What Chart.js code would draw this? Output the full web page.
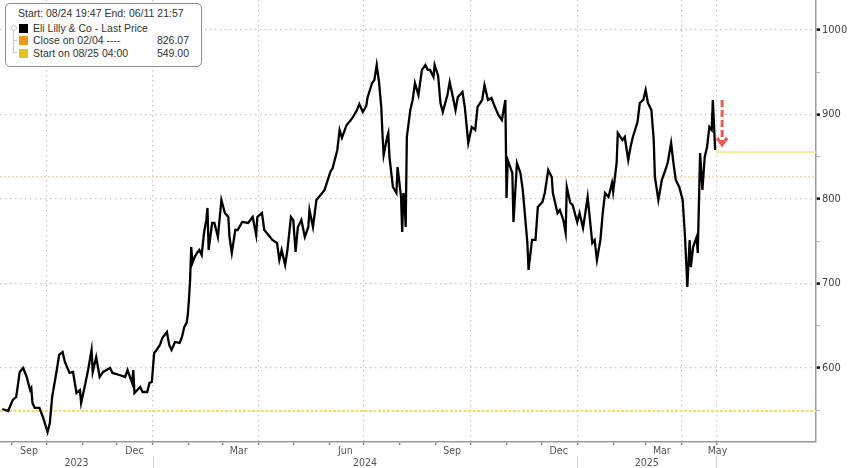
<!DOCTYPE html>
<html>
<head>
<meta charset="utf-8">
<script src="https://cdn.jsdelivr.net/npm/chart.js@4.4.1/dist/chart.umd.min.js"></script>
<style>
html,body{margin:0;padding:0;background:#fff;width:848px;height:468px;overflow:hidden}
#wrap{position:relative;width:848px;height:468px}
#c{position:absolute;left:0;top:0}
#legend{position:absolute;left:5px;top:3px;width:197px;height:64px;box-sizing:border-box;border:1.5px solid #8c8c8c;border-radius:5px;background:#fff;font-family:"Liberation Sans",Arial,sans-serif;font-size:10.5px;color:#333}
#legend .hdr{position:absolute;left:12px;top:3px;white-space:nowrap}
#legend .row{position:absolute;left:0;width:100%;height:12px;white-space:nowrap}
#legend .sw{position:absolute;left:13px;top:1px;width:9px;height:9px}
#legend .lbl{position:absolute;left:27px;top:-1px}
#legend .val{position:absolute;right:12px;top:-1px}
#legend .tree{position:absolute;background:#c9c9c9}
</style>
</head>
<body>
<div id="wrap">
<canvas id="c" width="848" height="468"></canvas>
<div id="legend"></div>
</div>
<script>
// ---------- DATA ----------
const priceDates = [
'2023-08-24','2023-08-29','2023-09-02','2023-09-05','2023-09-08','2023-09-11','2023-09-14','2023-09-17','2023-09-18','2023-09-19',
'2023-09-21','2023-09-25','2023-09-28','2023-10-02','2023-10-04','2023-10-06','2023-10-10','2023-10-12','2023-10-15','2023-10-17',
'2023-10-21','2023-10-24','2023-10-27','2023-10-30','2023-10-31','2023-11-03','2023-11-06','2023-11-09','2023-11-10','2023-11-13',
'2023-11-16','2023-11-19','2023-11-25','2023-11-27','2023-12-03','2023-12-08','2023-12-10','2023-12-14','2023-12-15','2023-12-16',
'2023-12-21','2023-12-23','2023-12-27','2023-12-29','2023-12-31','2024-01-02','2024-01-04','2024-01-07','2024-01-09','2024-01-13',
'2024-01-15','2024-01-17','2024-01-20','2024-01-24','2024-01-26','2024-01-28','2024-01-30','2024-01-31','2024-02-01','2024-02-02',
'2024-02-03','2024-02-04','2024-02-06','2024-02-08','2024-02-10','2024-02-12','2024-02-14','2024-02-16','2024-02-17','2024-02-18',
'2024-02-21','2024-02-23','2024-02-26','2024-02-29','2024-03-03','2024-03-06','2024-03-07','2024-03-09','2024-03-12','2024-03-14',
'2024-03-18','2024-03-23','2024-03-27','2024-03-30','2024-03-31','2024-04-04','2024-04-06','2024-04-11','2024-04-13','2024-04-17',
'2024-04-19','2024-04-21','2024-04-24','2024-04-26','2024-04-29','2024-05-01','2024-05-03','2024-05-05','2024-05-08','2024-05-11',
'2024-05-14','2024-05-15','2024-05-18','2024-05-21','2024-05-26','2024-05-28','2024-06-02','2024-06-04','2024-06-08','2024-06-10',
'2024-06-12','2024-06-16','2024-06-19','2024-06-21','2024-06-25','2024-06-27','2024-06-30','2024-07-03','2024-07-04','2024-07-08',
'2024-07-10','2024-07-12','2024-07-14','2024-07-16','2024-07-17','2024-07-18','2024-07-21','2024-07-22','2024-07-23','2024-07-25',
'2024-07-26','2024-07-29','2024-07-30','2024-08-02','2024-08-03','2024-08-04','2024-08-05','2024-08-06','2024-08-07','2024-08-10',
'2024-08-12','2024-08-14','2024-08-17','2024-08-20','2024-08-23','2024-08-25','2024-08-27','2024-08-30','2024-08-31','2024-09-03',
'2024-09-05','2024-09-07','2024-09-11','2024-09-13','2024-09-15','2024-09-18','2024-09-20','2024-09-24','2024-09-26','2024-09-29',
'2024-10-02','2024-10-05','2024-10-07','2024-10-11','2024-10-13','2024-10-16','2024-10-19','2024-10-22','2024-10-25','2024-10-28',
'2024-10-31','2024-11-01','2024-11-02','2024-11-06','2024-11-07','2024-11-10','2024-11-13','2024-11-15','2024-11-19','2024-11-20',
'2024-11-23','2024-11-26','2024-11-28','2024-12-02','2024-12-04','2024-12-07','2024-12-10','2024-12-11','2024-12-15','2024-12-17',
'2024-12-20','2024-12-22','2024-12-23','2024-12-26','2024-12-28','2025-01-01','2025-01-03','2025-01-06','2025-01-08','2025-01-10',
'2025-01-14','2025-01-16','2025-01-18','2025-01-21','2025-01-23','2025-01-25','2025-01-28','2025-01-31','2025-02-01','2025-02-04',
'2025-02-05','2025-02-09','2025-02-11','2025-02-14','2025-02-16','2025-02-18','2025-02-22','2025-02-24','2025-02-27','2025-03-01',
'2025-03-03','2025-03-06','2025-03-08','2025-03-09','2025-03-12','2025-03-15','2025-03-18','2025-03-20','2025-03-23','2025-03-25',
'2025-03-27','2025-03-30','2025-04-02','2025-04-04','2025-04-06','2025-04-08','2025-04-09','2025-04-11','2025-04-14','2025-04-15',
'2025-04-17','2025-04-19','2025-04-21','2025-04-23','2025-04-25','2025-04-27','2025-04-28','2025-04-30'
];
const priceValues = [
551.5,549.1,562.1,565.7,595.3,600.0,589.4,573.9,576.3,558.6,
552.7,552.7,542.0,524.3,534.9,565.7,597.6,615.4,618.9,607.1,
594.1,595.3,570.4,573.9,558.6,577.5,597.6,621.3,595.3,613.0,
589.4,595.3,600.0,594.1,591.7,589.4,597.6,582.3,597.6,570.4,
577.5,571.6,571.6,582.3,583.4,617.8,621.3,627.2,635.5,642.6,
627.2,621.3,630.8,629.6,636.7,648.5,653.3,662.7,680.5,704.2,
743.2,724.3,731.4,736.1,739.7,733.7,759.8,775.2,789.4,739.7,
771.6,771.6,755.0,798.8,783.4,778.7,755.0,736.1,763.3,763.3,
772.8,771.6,778.7,757.4,778.7,783.4,763.3,755.0,751.5,747.9,
727.8,739.7,721.9,739.7,778.7,775.2,737.3,766.9,775.2,755.0,
766.9,786.9,766.9,798.8,807.1,810.7,832.0,836.7,858.0,881.7,
872.3,887.6,892.3,895.9,905.3,912.4,903.0,910.1,919.5,937.3,
940.8,958.6,938.5,907.7,875.7,852.1,873.4,878.1,849.7,826.0,
814.2,807.1,837.9,802.4,760.9,807.1,798.8,766.9,873.4,905.3,
917.2,937.3,923.1,952.7,958.6,952.7,952.7,944.4,958.6,945.6,
913.6,903.0,923.1,938.5,925.4,905.3,920.7,926.6,908.9,866.3,
885.2,881.7,908.9,917.2,934.9,917.2,919.5,908.9,899.4,893.5,
917.2,801.2,846.2,830.8,772.8,842.6,830.8,810.7,747.9,716.0,
751.5,751.5,790.5,796.5,807.1,834.3,826.0,807.1,783.4,787.0,
775.2,759.8,814.2,795.3,792.9,772.8,783.4,765.7,783.4,802.4,
747.9,751.5,727.8,751.5,783.4,807.1,802.4,818.9,808.3,842.6,
878.1,869.8,873.4,846.2,861.5,873.4,891.1,913.6,917.2,929.0,
913.6,905.3,869.8,826.0,798.8,822.5,834.3,842.6,866.3,842.6,
822.5,814.2,798.8,755.0,695.9,751.5,719.5,743.2,755.0,736.1,
854.4,810.7,849.7,861.5,885.2,881.7,917.2,858.0
];
const closeLevel = 826.07;          // "Close on 02/04"
const startLevel = 549.00;          // "Start on 08/25 04:00"
const lastLevel = 855.3;            // short level line after last price
const lastLevelStart = '2025-05-01';
const arrowDate = '2025-05-06';
const arrowFrom = 917.2;
const arrowTo = 863.9;

const axisStart = '2023-08-22';
const axisEnd = '2025-07-26';
const yMin = 512.4, yMax = 1035.5;
const yTickValues = [550,600,650,700,750,800,850,900,950,1000];
const monthTickFirst = '2023-09-01', monthTickLast = '2025-05-01';
const gridDates = ['2023-10-01','2024-01-01','2024-04-01','2024-07-01','2024-10-01','2025-01-01','2025-04-01','2025-05-01'];
const monthLabelNames = ['Sep','Dec','Mar','Jun','Sep','Dec','Mar','May'];
const monthLabelDates = ['2023-09-16','2023-12-16','2024-03-15','2024-06-15','2024-09-15','2024-12-16','2025-03-15','2025-05-02'];
const yearLabels = ['2023','2024','2025'];
const yearSpanStarts = ['2023-08-22','2024-01-01','2025-01-01'];
const yearSpanEnds = ['2024-01-01','2025-01-01','2025-05-01'];
const yearSeparators = ['2024-01-01','2025-01-01','2025-05-01'];

const legendTitle = 'Start: 08/24 19:47 End: 06/11 21:57';
const legendNames = ['Eli Lilly & Co - Last Price','Close on 02/04 ----','Start on 08/25 04:00'];
const legendValues = ['', '826.07', '549.00'];
const legendColors = ['#000000','#f29a17','#e6c31b'];

// ---------- helpers ----------
const dayNum = s => { const [a,b,c] = s.split('-').map(Number); return Date.UTC(a,b-1,c)/86400000; };
const monthTicks = [];
(function(){ let [yy,mm] = monthTickFirst.split('-').map(Number); const last = dayNum(monthTickLast);
  while (true){ const v = Date.UTC(yy,mm-1,1)/86400000; if (v>last) break; monthTicks.push(v); mm++; if(mm>12){mm=1;yy++;} } })();
const gridSet = new Set(gridDates.map(dayNum));
const xMin = dayNum(axisStart), xMax = dayNum(axisEnd);
const axisFont = "'Liberation Sans Narrow','DejaVu Sans Condensed','Arial Narrow',sans-serif";

// ---------- legend ----------
(function(){
  const L = document.getElementById('legend');
  let h = '<div class="hdr">'+legendTitle+'</div>';
  const tops = [18.5, 31, 43.5];
  legendNames.forEach((n,i)=>{
    h += '<div class="row" style="top:'+tops[i]+'px"><span class="sw" style="background:'+legendColors[i]+'"></span><span class="lbl"></span><span class="val">'+legendValues[i]+'</span></div>';
  });
  h += '<div class="tree" style="left:5px;top:21px;width:4px;height:4px;border-radius:50%;background:none;border:1px solid #c9c9c9"></div>';
  h += '<div class="tree" style="left:7px;top:27px;width:1px;height:22px"></div>';
  h += '<div class="tree" style="left:7px;top:36px;width:4px;height:1px"></div>';
  h += '<div class="tree" style="left:7px;top:48px;width:4px;height:1px"></div>';
  L.innerHTML = h;
  L.querySelectorAll('.lbl').forEach((e,i)=>{ e.textContent = legendNames[i]; });
})();

// ---------- overlay plugin ----------
const overlay = {
  id: 'overlay',
  afterDraw(chart){
    const {ctx, chartArea, scales:{x, y}} = chart;
    ctx.save();
    ctx.font = "10.5px " + axisFont;
    ctx.fillStyle = '#555';
    ctx.textAlign = 'center';
    ctx.textBaseline = 'middle';
    monthLabelDates.forEach((d,i)=>{
      ctx.fillText(monthLabelNames[i], x.getPixelForValue(dayNum(d)), chartArea.bottom + 9);
    });
    yearLabels.forEach((t,i)=>{
      const a = x.getPixelForValue(dayNum(yearSpanStarts[i]));
      const b = x.getPixelForValue(dayNum(yearSpanEnds[i]));
      ctx.fillText(t, (a+b)/2, chartArea.bottom + 21);
    });
    ctx.strokeStyle = '#cfcfcf';
    ctx.lineWidth = 1;
    yearSeparators.forEach(d=>{
      const px = Math.round(x.getPixelForValue(dayNum(d))) + 0.5;
      ctx.beginPath(); ctx.moveTo(px, chartArea.bottom + 14); ctx.lineTo(px, chart.height); ctx.stroke();
    });
    // red arrow
    const ax = x.getPixelForValue(dayNum(arrowDate));
    const y1 = y.getPixelForValue(arrowFrom), y2 = y.getPixelForValue(arrowTo);
    ctx.strokeStyle = '#ec5a50';
    ctx.lineWidth = 3;
    ctx.setLineDash([7,3]);
    ctx.beginPath(); ctx.moveTo(ax, y1); ctx.lineTo(ax, y2 - 3); ctx.stroke();
    ctx.setLineDash([]);
    ctx.lineJoin = 'miter';
    ctx.beginPath(); ctx.moveTo(ax - 5, y2 - 7); ctx.lineTo(ax, y2); ctx.lineTo(ax + 5, y2 - 7); ctx.stroke();
    ctx.restore();
  }
};

// ---------- chart ----------
const priceData = priceDates.map((d,i)=>({x: dayNum(d), y: priceValues[i]}));
new Chart(document.getElementById('c'), {
  type: 'line',
  data: {
    datasets: [
      {data: priceData, borderColor: '#000', borderWidth: 2.3, pointRadius: 0, tension: 0},
      {data: [{x: dayNum(lastLevelStart), y: lastLevel}, {x: xMax, y: lastLevel}], borderColor: '#f9e2a0', borderWidth: 2, pointRadius: 0},
      {data: [{x: xMin, y: closeLevel}, {x: xMax, y: closeLevel}], borderColor: '#fbd39c', borderWidth: 1.5, borderDash: [2,2], pointRadius: 0},
      {data: [{x: xMin, y: startLevel}, {x: xMax, y: startLevel}], borderColor: '#f2dc6c', borderWidth: 2, borderDash: [3,1.5], pointRadius: 0}
    ]
  },
  options: {
    responsive: false,
    animation: false,
    events: [],
    layout: {padding: 0},
    plugins: {legend: {display: false}, tooltip: {enabled: false}},
    scales: {
      x: {
        type: 'linear', min: xMin, max: xMax,
        afterBuildTicks: s => { s.ticks = monthTicks.map(v=>({value: v})); },
        afterFit: s => { s.height = 26; s.paddingLeft = 0; s.paddingRight = 0; },
        ticks: {display: false},
        grid: {
          color: c => gridSet.has(c.tick && c.tick.value) ? '#c4c4c4' : 'rgba(0,0,0,0)',
          lineWidth: 1.2,
          tickColor: '#888', tickLength: 3, tickWidth: 1.5
        },
        border: {color: '#9a9a9a', width: 1.5, dash: [1.5,3.5]}
      },
      y: {
        position: 'right', min: yMin, max: yMax,
        afterBuildTicks: s => { s.ticks = yTickValues.map(v=>({value: v})); },
        afterFit: s => { s.width = 32; s.paddingTop = 0; s.paddingBottom = 0; },
        ticks: {
          callback: v => (v % 100 === 0 ? String(v) : ''),
          color: '#444', padding: 2,
          font: {family: axisFont, size: 11}
        },
        grid: {
          color: c => (c.tick && c.tick.value % 100 === 0) ? '#c4c4c4' : 'rgba(0,0,0,0)',
          lineWidth: 1.2,
          tickLength: 4,
          tickColor: c => (c.tick && c.tick.value % 100 === 0) ? '#111' : '#aaa',
          tickWidth: c => (c.tick && c.tick.value % 100 === 0) ? 2.5 : 1
        },
        border: {color: '#9a9a9a', width: 1.5, dash: [1.5,3.5]}
      }
    }
  },
  plugins: [overlay]
});
</script>
</body>
</html>
